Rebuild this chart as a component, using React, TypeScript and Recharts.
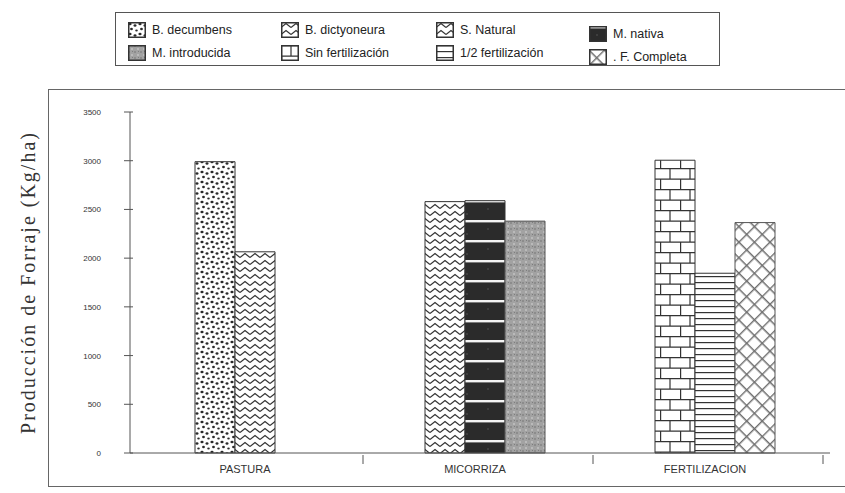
import { Bar, BarChart, Cell, XAxis, YAxis } from 'recharts'

const CATEGORIES = ['PASTURA', 'MICORRIZA', 'FERTILIZACION']
// three bar slots per group; each group uses its own treatments
const FIRST_BAR = [2990, 2580, 3005]
const SECOND_BAR = [2065, 2590, 1845]
const THIRD_BAR = [null, 2380, 2365]
const FIRST_SERIES = ['B. decumbens', 'S. Natural', 'Sin fertilización']
const SECOND_SERIES = ['B. dictyoneura', 'M. nativa', '1/2 fertilización']
const THIRD_SERIES = [null, 'M. introducida', 'F. Completa']
const Y_TICKS = [0, 500, 1000, 1500, 2000, 2500, 3000, 3500]

const LEGEND_TOP = ['B. decumbens', 'B. dictyoneura', 'S. Natural', 'M. nativa']
const LEGEND_BOTTOM = ['M. introducida', 'Sin fertilización', '1/2 fertilización', 'F. Completa']
const LEGEND_TEXT: Record<string, string> = { 'F. Completa': '. F. Completa' }

const FILL: Record<string, string> = {
  'B. decumbens': 'url(#p-dots)',
  'B. dictyoneura': 'url(#p-zig)',
  'S. Natural': 'url(#p-zig)',
  'M. nativa': 'url(#p-nativa)',
  'M. introducida': 'url(#p-gray)',
  'Sin fertilización': 'url(#p-brick)',
  '1/2 fertilización': 'url(#p-hline)',
  'F. Completa': 'url(#p-cross)',
}

const data = CATEGORIES.map((c, i) => ({
  name: c,
  a: FIRST_BAR[i],
  b: SECOND_BAR[i],
  c: THIRD_BAR[i],
}))

const INK = '#2a2a2a'
const SANS = "'Liberation Sans Narrow', 'Liberation Sans', Arial, sans-serif"

function Patterns() {
  return (
    <svg width={0} height={0} style={{ position: 'absolute' }}>
      <defs>
        <pattern id="p-dots" width={10} height={10} patternUnits="userSpaceOnUse">
          <rect width={10} height={10} fill="#fff" />
          <ellipse cx={2} cy={2} rx={1.6} ry={1.3} fill={INK} />
          <ellipse cx={7} cy={3.5} rx={1.5} ry={1.2} fill={INK} />
          <ellipse cx={3.5} cy={7} rx={1.4} ry={1.3} fill={INK} />
          <ellipse cx={8.5} cy={8.5} rx={1.3} ry={1.1} fill={INK} />
        </pattern>
        <pattern id="p-zig" width={10} height={7} patternUnits="userSpaceOnUse">
          <rect width={10} height={7} fill="#fff" />
          <path d="M0,5.5 L5,1.5 L10,5.5" stroke="#333" strokeWidth={1.2} fill="none" />
        </pattern>
        <pattern id="p-nativa" width={40} height={20} patternUnits="userSpaceOnUse">
          <rect width={40} height={20} fill="#2b2b2b" />
          <rect y={0} width={40} height={2.4} fill="#f4f4f4" />
          <circle cx={8} cy={9} r={0.8} fill="#555" />
          <circle cx={27} cy={14} r={0.8} fill="#555" />
        </pattern>
        <pattern id="p-gray" width={6} height={6} patternUnits="userSpaceOnUse">
          <rect width={6} height={6} fill="#a2a2a2" />
          <rect x={0} y={0} width={2} height={2} fill="#8c8c8c" />
          <rect x={3} y={3} width={2} height={2} fill="#bababa" />
          <rect x={4} y={0} width={1} height={1} fill="#7d7d7d" />
        </pattern>
        <pattern id="p-brick" width={20} height={21} patternUnits="userSpaceOnUse">
          <rect width={20} height={21} fill="#fff" />
          <path d="M0,0.6 H20 M0,11.1 H20 M10,0 V10.5 M0.6,10.5 V21" stroke="#333" strokeWidth={1.2} fill="none" />
        </pattern>
        <pattern id="p-hline" width={10} height={6} patternUnits="userSpaceOnUse">
          <rect width={10} height={6} fill="#fff" />
          <path d="M0,0.6 H10" stroke="#333" strokeWidth={1.2} />
        </pattern>
        <pattern id="p-cross" width={11} height={11} patternUnits="userSpaceOnUse" patternTransform="rotate(45)">
          <rect width={11} height={11} fill="#fff" />
          <path d="M0,0.7 H11 M0.7,0 V11" stroke="#6e6e6e" strokeWidth={1.4} />
        </pattern>
      </defs>
    </svg>
  )
}

function CategoryTick(props: any) {
  const { x, y, payload } = props
  return (
    <g>
      <text x={x - 10} y={y + 12} textAnchor="middle" fontSize={11} fill="#333" fontFamily={SANS}>
        {payload.value}
      </text>
      <line x1={x + 108} x2={x + 108} y1={y - 6} y2={y + 3} stroke="#555" strokeWidth={1} />
    </g>
  )
}

function ValueTick(props: any) {
  const { x, y, payload } = props
  return (
    <g>
      <line x1={x + 1} x2={x + 10} y1={y} y2={y} stroke="#555" strokeWidth={1} />
      <text x={x - 22} y={y + 3} textAnchor="end" fontSize={8} fill="#333" fontFamily={SANS}>
        {payload.value}
      </text>
    </g>
  )
}

function LegendBox() {
  const cols = [127, 280, 435, 588]
  const rows = [
    { items: LEGEND_TOP, y: [21, 21, 21, 25] },
    { items: LEGEND_BOTTOM, y: [44, 44, 44, 48] },
  ]
  return (
    <div
      style={{
        position: 'absolute',
        left: 115,
        top: 12,
        width: 605,
        height: 54,
        border: '1.5px solid #555',
        boxSizing: 'border-box',
      }}
    >
      {rows.map((r) =>
        r.items.map((name, i) => (
          <div
            key={name}
            style={{
              position: 'absolute',
              left: cols[i] - 115,
              top: r.y[i] - 12,
              display: 'flex',
              alignItems: 'center',
              gap: 6,
              fontFamily: SANS,
              fontSize: 12.5,
              color: '#222',
              whiteSpace: 'nowrap',
            }}
          >
            <svg width={18} height={16}>
              <rect x={0.75} y={0.75} width={16.5} height={14.5} fill={FILL[name]} stroke="#333" strokeWidth={1.5} />
            </svg>
            <span>{LEGEND_TEXT[name] ?? name}</span>
          </div>
        )),
      )}
    </div>
  )
}

export default function App() {
  return (
    <div
      style={{
        position: 'absolute',
        left: 0,
        top: 0,
        width: 845,
        height: 493,
        background: '#fff',
        overflow: 'hidden',
      }}
    >
      <Patterns />
      <LegendBox />
      <div
        style={{
          position: 'absolute',
          left: 48,
          top: 89,
          width: 810,
          height: 398,
          border: '1.5px solid #666',
          boxSizing: 'border-box',
        }}
      />
      <div style={{ position: 'absolute', left: 0, top: 0 }}>
        <BarChart
          width={845}
          height={493}
          data={data}
          margin={{ top: 112, right: 15, bottom: 10, left: 80 }}
          barGap={0}
          barSize={40}
        >
          <XAxis
            dataKey="name"
            stroke="#555"
            tickLine={false}
            tick={<CategoryTick />}
            height={30}
            padding={{ left: 10, right: 0 }}
            interval={0}
          />
          <YAxis
            domain={[0, 3500]}
            ticks={Y_TICKS}
            stroke="#555"
            tickLine={false}
            tickSize={5}
            width={50}
            tick={<ValueTick />}
            label={{
              value: 'Producción de Forraje (Kg/ha)',
              angle: -90,
              position: 'left',
              offset: 52,
              style: {
                textAnchor: 'middle',
                fontSize: 20,
                letterSpacing: 2,
                fill: '#333',
                fontFamily: "'Liberation Serif', 'Times New Roman', serif",
              },
            }}
          />
          <Bar dataKey="a" stroke="#333" strokeWidth={1} isAnimationActive={false}>
            {FIRST_SERIES.map((s, i) => (
              <Cell key={i} fill={FILL[s]} />
            ))}
          </Bar>
          <Bar dataKey="b" stroke="#333" strokeWidth={1} isAnimationActive={false}>
            {SECOND_SERIES.map((s, i) => (
              <Cell key={i} fill={FILL[s]} />
            ))}
          </Bar>
          <Bar dataKey="c" stroke="#555" strokeWidth={1} isAnimationActive={false}>
            {THIRD_SERIES.map((s, i) => (
              <Cell key={i} fill={s ? FILL[s] : 'none'} />
            ))}
          </Bar>
        </BarChart>
      </div>
    </div>
  )
}
